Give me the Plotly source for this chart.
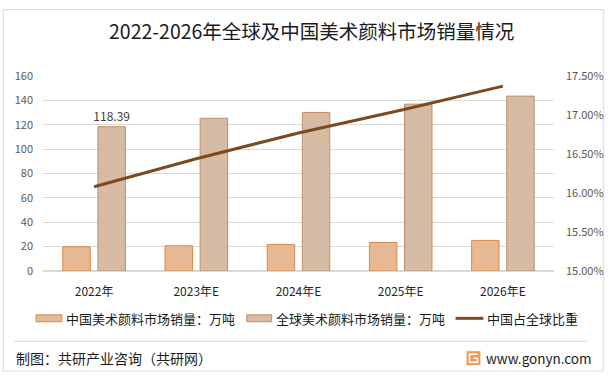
import plotly.graph_objects as go

# ---- data ----
categories = ["2022年", "2023年E", "2024年E", "2025年E", "2026年E"]
china_sales = [19.9, 20.7, 21.8, 23.4, 25.1]          # 万吨
global_sales = [118.39, 125.3, 130.1, 136.9, 143.5]    # 万吨
china_share = [0.1608, 0.1644, 0.1677, 0.1706, 0.1737]  # 中国占全球比重
global_label = ["118.39", "", "", "", ""]

title_text = "2022-2026年全球及中国美术颜料市场销量情况"
legend_names = ["中国美术颜料市场销量：万吨", "全球美术颜料市场销量：万吨", "中国占全球比重"]
source_text = "制图：共研产业咨询（共研网）"
site_text = "www.gonyn.com"

# ---- geometry (pixels) ----
FW, FH = 616, 378
L, R, T, B = 43, 557, 75.7, 271.5
PW, PH = R - L, B - T


def px(x):
    return (x - L) / PW


def py(y):
    return (B - y) / PH


FONT = "Noto Sans CJK SC, Noto Sans, sans-serif"
c_china_fill, c_china_line = "#E7B992", "#D98A4C"
c_glob_fill, c_glob_line = "#D6BBA5", "#BE8E6A"
c_line = "#7B4A1E"

fig = go.Figure()
fig.add_trace(go.Bar(
    x=categories, y=china_sales, name=legend_names[0],
    marker=dict(color=c_china_fill, line=dict(color=c_china_line, width=1)),
))
fig.add_trace(go.Bar(
    x=categories, y=global_sales, name=legend_names[1],
    marker=dict(color=c_glob_fill, line=dict(color=c_glob_line, width=1)),
    text=global_label, textposition="outside", cliponaxis=False,
    constraintext="none",
    textfont=dict(size=12, color="#404040", family=FONT),
))
fig.add_trace(go.Scatter(
    x=categories, y=china_share, name=legend_names[2], yaxis="y2",
    mode="lines", line=dict(color=c_line, width=3),
))

shapes = []
annotations = []

# outer frame
shapes.append(dict(type="rect", xref="paper", yref="paper",
                   x0=px(3), x1=px(607), y0=py(9), y1=py(372),
                   line=dict(color="#D9D9D9", width=1), layer="below"))
# footer separator
shapes.append(dict(type="line", xref="paper", yref="paper",
                   x0=px(14), x1=px(591), y0=py(342), y1=py(342),
                   line=dict(color="#D9D9D9", width=1)))

# title
annotations.append(dict(text=title_text, xref="paper", yref="paper",
                        x=px(313), y=py(30.5), showarrow=False,
                        xanchor="center", yanchor="middle",
                        font=dict(size=19.5, color="#1a1a1a", family=FONT)))

# manual legend
leg_y = 319
items = [
    (36, 62, legend_names[0], "bar", c_china_fill, c_china_line),
    (248, 273, legend_names[1], "bar", c_glob_fill, c_glob_line),
    (458, 486, legend_names[2], "line", c_line, c_line),
]
for x0, x1, name, kind, fill, lc in items:
    if kind == "bar":
        shapes.append(dict(type="rect", xref="paper", yref="paper",
                           x0=px(x0), x1=px(x1), y0=py(leg_y + 3.5), y1=py(leg_y - 3.5),
                           fillcolor=fill, line=dict(color=lc, width=1)))
    else:
        shapes.append(dict(type="line", xref="paper", yref="paper",
                           x0=px(x0), x1=px(x1), y0=py(leg_y), y1=py(leg_y),
                           line=dict(color=lc, width=3)))
    annotations.append(dict(text=name, xref="paper", yref="paper",
                            x=px(x1 + 2), y=py(leg_y), showarrow=False,
                            xanchor="left", yanchor="middle",
                            font=dict(size=13, color="#1a1a1a", family=FONT)))

# footer texts
annotations.append(dict(text=source_text, xref="paper", yref="paper",
                        x=px(14), y=py(359), showarrow=False,
                        xanchor="left", yanchor="middle",
                        font=dict(size=14, color="#1a1a1a", family=FONT)))
annotations.append(dict(text=site_text, xref="paper", yref="paper",
                        x=px(487), y=py(359), showarrow=False,
                        xanchor="left", yanchor="middle",
                        font=dict(size=13.5, color="#1a1a1a", family=FONT)))
# logo
shapes.append(dict(type="rect", xref="paper", yref="paper",
                   x0=px(469), x1=px(483), y0=py(366), y1=py(352),
                   fillcolor="#F29B55", line=dict(width=0)))
shapes.append(dict(type="path", xref="paper", yref="paper",
                   path=(f"M {px(480)},{py(355)} L {px(472)},{py(355)} L {px(472)},{py(363)} "
                         f"L {px(480)},{py(363)} L {px(480)},{py(359)} L {px(476)},{py(359)}"),
                   line=dict(color="white", width=1.5)))

fig.update_layout(
    width=FW, height=FH,
    margin=dict(l=L, r=FW - R, t=T, b=FH - B, pad=0),
    paper_bgcolor="white", plot_bgcolor="white",
    font=dict(family=FONT, color="#595959"),
    showlegend=False,
    barmode="group", bargap=0.313, bargroupgap=0.218,
    xaxis=dict(type="category", showgrid=False, showline=False, ticks="",
               tickfont=dict(size=12, color="#262626"), ticklabelstandoff=12),
    yaxis=dict(range=[0, 160], dtick=20, showgrid=True, gridcolor="#D9D9D9",
               gridwidth=1, zeroline=True, zerolinecolor="#D9D9D9", showline=False,
               ticks="", tickfont=dict(size=11, color="#595959"),
               ticklabelstandoff=9),
    yaxis2=dict(range=[0.15, 0.175], dtick=0.005, tickformat=".2%",
                overlaying="y", side="right", showgrid=False, zeroline=False,
                showline=False, ticks="", tickfont=dict(size=11, color="#595959"),
                ticklabelstandoff=11),
    shapes=shapes, annotations=annotations,
)

fig.write_html("out.html", config={"displayModeBar": False},
               post_script="document.body.style.margin='0';document.body.style.overflow='hidden';")
